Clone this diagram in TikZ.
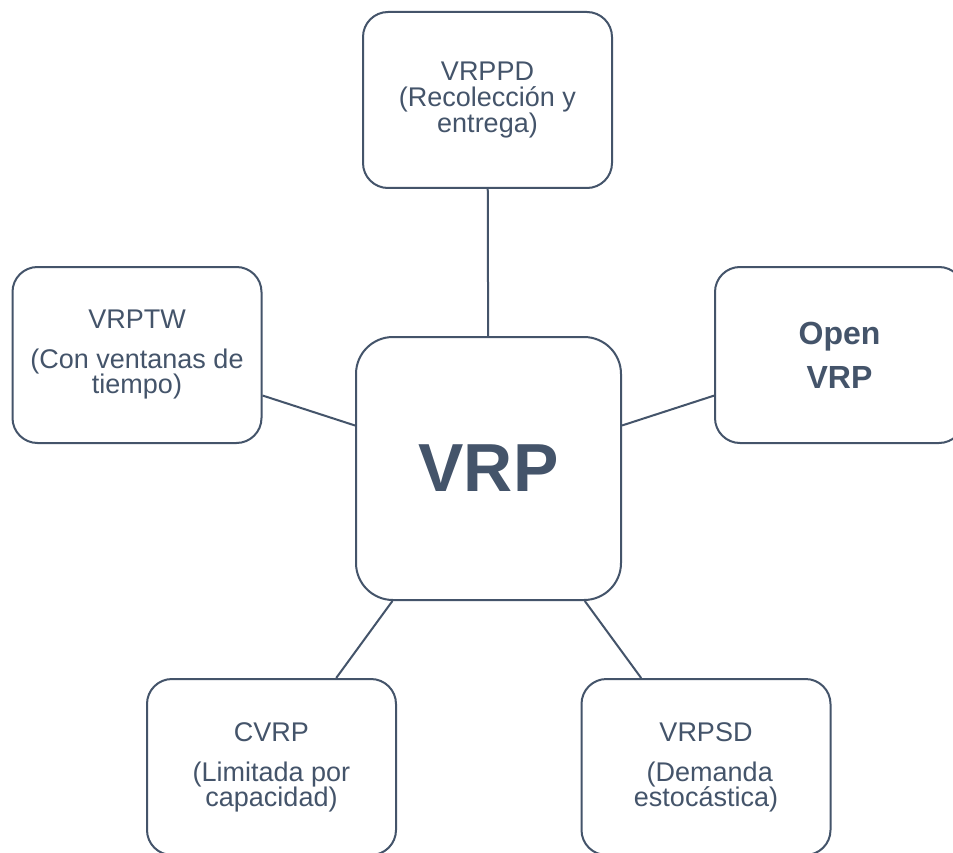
\documentclass[tikz,border=0pt]{standalone}
\usepackage{fontspec}
\setmainfont{Liberation Sans}
\definecolor{slate}{RGB}{68,84,106}
\lineskiplimit=-50pt
\tikzset{
  box/.style={draw=slate, line width=2pt, rounded corners=25pt, fill=white,
    minimum width=249pt, minimum height=176pt, inner sep=0pt,
    text=slate, align=center,
    font=\fontsize{27}{25}\selectfont},
  hub/.style={box, minimum width=265pt, minimum height=263pt, rounded corners=37pt,
    font=\fontsize{68}{70}\selectfont\bfseries},
  link/.style={draw=slate, line width=2pt}
}
\begin{document}
\begin{tikzpicture}[x=1pt, y=-1pt]
  \clip (0,0) rectangle (953,853);
  \fill[white] (0,0) rectangle (953,853);
  % central problem
  \node[hub] (vrp) at (488.5,468.5) {VRP};
  % variants around it
  \node[box] (ppd) at (487.5,100) {VRPPD\\[1pt](Recolección y\\[1pt]entrega)};
  \node[box] (tw) at (137,355) {VRPTW\\[15pt](Con ventanas de\\tiempo)};
  \node[box, font=\fontsize{32}{32}\selectfont\bfseries] (open) at (839.5,355) {Open\\[12pt]VRP};
  \node[box] (cvrp) at (271.5,767) {CVRP\\[15pt](Limitada por\\capacidad)};
  \node[box] (sd) at (706,767) {VRPSD\\[15pt]\ (Demanda\\estocástica)};
  % connectors
  \draw[link] (ppd) -- (vrp);
  \draw[link] (tw) -- (vrp);
  \draw[link] (open) -- (vrp);
  \draw[link] (cvrp) -- (vrp);
  \draw[link] (sd) -- (vrp);
\end{tikzpicture}
\end{document}
